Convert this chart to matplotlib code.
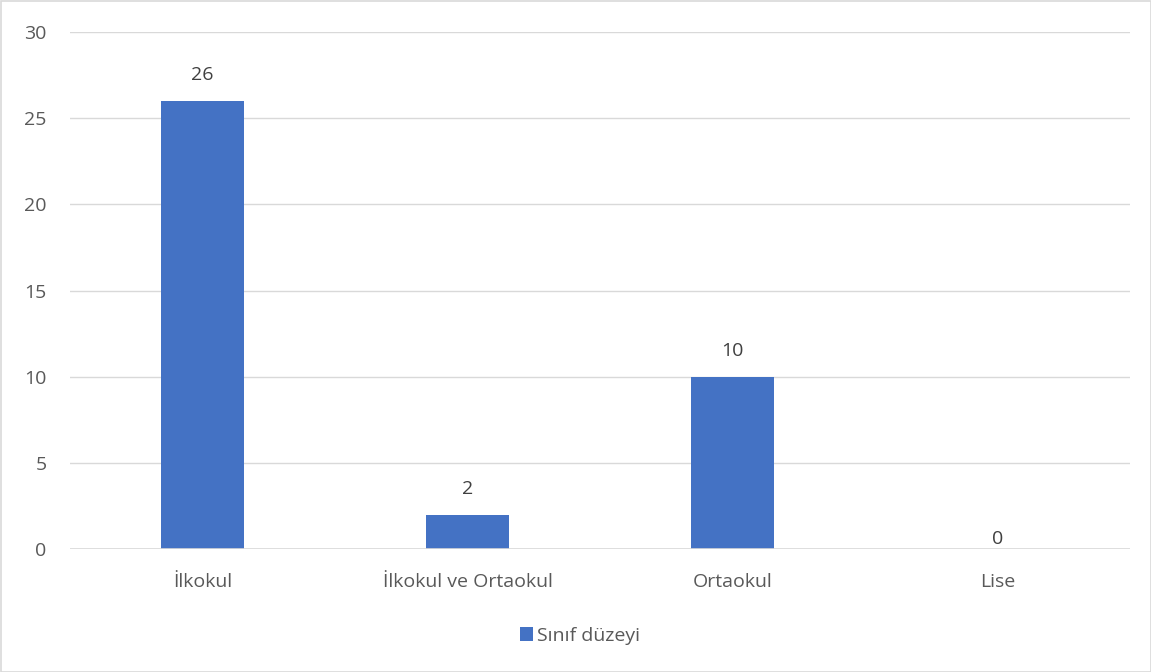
import matplotlib
matplotlib.use("Agg")
import matplotlib.pyplot as plt
from matplotlib.patches import Rectangle

categories = ["İlkokul", "İlkokul ve Ortaokul", "Ortaokul", "Lise"]
values = [26, 2, 10, 0]
series_name = "Sınıf düzeyi"
yticks = [0, 5, 10, 15, 20, 25, 30]

plt.rcParams['font.family'] = ['Open Sans', 'DejaVu Sans']
bar_color = "#4472C4"
text_color = "#595959"
grid_color = "#D9D9D9"
fs = 14

fig = plt.figure(figsize=(11.51, 6.72), dpi=100)
ax = fig.add_axes([70/1151, 1-549/672, (1130-70)/1151, (549-32)/672])

x = list(range(len(categories)))
bars = ax.bar(x, values, width=0.31, color=bar_color, zorder=3, label=series_name)
ax.set_xlim(-0.5, len(categories)-0.5)
ax.set_ylim(0, 30)
ax.set_yticks(yticks)
ax.set_xticks(x)
ax.set_xticklabels(categories)
ax.tick_params(axis='both', length=0, labelsize=fs, colors=text_color)
ax.tick_params(axis='x', pad=17)
ax.tick_params(axis='y', pad=17)
ax.grid(axis='y', color=grid_color, linewidth=1, zorder=0)
for s in ax.spines.values():
    s.set_visible(False)
ax.axhline(0, color=grid_color, linewidth=1.2, zorder=4)

for xi, v in zip(x, values):
    off = 12 if v > 0 else 1
    ax.annotate(str(v), (xi, v), xytext=(0, off), textcoords='offset points',
                ha='center', va='bottom', fontsize=fs, color="#404040")

fig.legend(handles=[bars], labels=[series_name], loc='center', bbox_to_anchor=(580/1151, 1-636/672),
           frameon=False, fontsize=fs, handlelength=0.7, handleheight=0.7, handletextpad=0.2,
           labelcolor=text_color)

fig.add_artist(Rectangle((0.5/1151, 0.5/672), 1-1/1151, 1-1/672, transform=fig.transFigure,
                         fill=False, edgecolor=grid_color, linewidth=1.2))

fig.savefig("out.png", dpi=100, facecolor="white")
